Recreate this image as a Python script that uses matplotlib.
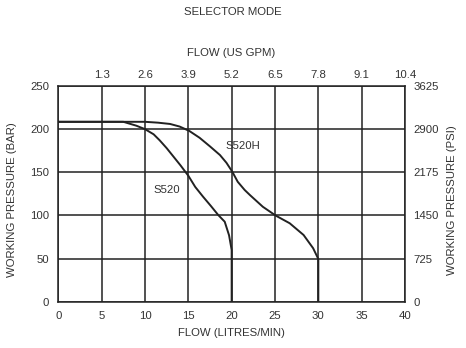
import matplotlib
matplotlib.use("Agg")
import matplotlib.pyplot as plt

plt.rcParams['font.family'] = ['Liberation Sans', 'DejaVu Sans']

# Data
flow_ticks = [0, 5, 10, 15, 20, 25, 30, 35, 40]
gpm_labels = ["1.3", "2.6", "3.9", "5.2", "6.5", "7.8", "9.1", "10.4"]
bar_ticks = [0, 50, 100, 150, 200, 250]
psi_labels = ["0", "725", "1450", "2175", "2900", "3625"]

s520_x = [0, 7.5, 9, 10, 11, 11.7, 12.5, 13.3, 14.1, 15, 15.8, 16.7, 17.6, 18.45, 19.2, 19.7, 20, 20]
s520_y = [208.5, 208.5, 204, 200, 194, 187, 178, 168, 158, 146, 133, 121.7, 111, 100.5, 92.7, 77, 60, 0]

s520h_x = [0, 10, 11.5, 12.9, 14, 15.1, 16.3, 17.5, 18.65, 19.4, 20.07, 20.7, 21.5, 22.1, 23.6, 25.1, 26.7, 28.3, 29.4, 30, 30]
s520h_y = [208.5, 208.5, 207.5, 206, 203, 198, 190, 180, 170, 161, 150.7, 139, 129.5, 123.7, 110, 99.7, 90.9, 77.3, 62, 49.5, 0]

W, H = 466, 348
fig = plt.figure(figsize=(W / 100, H / 100), dpi=100)
ax = fig.add_axes([58.3 / W, 1 - 301.7 / H, (405 - 58.3) / W, (301.7 - 86) / H])

col = "#222222"
tcol = "#333333"
fs = 8.2
ax.set_xlim(0, 40)
ax.set_ylim(0, 250)
ax.set_xticks(flow_ticks)
ax.set_yticks(bar_ticks)
ax.grid(True, color=col, linewidth=1.1)
ax.set_axisbelow(True)
for s in ax.spines.values():
    s.set_color(col)
    s.set_linewidth(1.1)
ax.tick_params(length=0, labelsize=fs, colors=tcol)
ax.tick_params(axis='x', pad=7)
ax.tick_params(axis='y', pad=6.5)

ax.plot(s520_x, s520_y, color=col, linewidth=1.4, solid_joinstyle='round')
ax.plot(s520h_x, s520h_y, color=col, linewidth=1.4, solid_joinstyle='round')

ax.text(21.3, 180.5, "S520H", fontsize=fs, ha='center', va='center', color=tcol)
ax.text(12.5, 129.5, "S520", fontsize=fs, ha='center', va='center', color=tcol)

# top axis (US GPM)
axt = ax.twiny()
axt.set_xlim(ax.get_xlim())
axt.set_xticks(flow_ticks[1:])
axt.set_xticklabels(gpm_labels)
axt.tick_params(length=0, labelsize=fs, pad=4.3, colors=tcol)
for s in axt.spines.values():
    s.set_visible(False)

# right axis (PSI)
axr = ax.twinx()
axr.set_ylim(ax.get_ylim())
axr.set_yticks(bar_ticks)
axr.set_yticklabels(psi_labels)
axr.tick_params(length=0, labelsize=fs, pad=6, colors=tcol)
for s in axr.spines.values():
    s.set_visible(False)

fig.text(233 / W, 1 - 12 / H, "SELECTOR MODE", fontsize=fs, ha='center', va='center', color=tcol)
fig.text(231 / W, 1 - 53 / H, "FLOW (US GPM)", fontsize=fs, ha='center', va='center', color=tcol)
fig.text(231 / W, 1 - 333 / H, "FLOW (LITRES/MIN)", fontsize=fs, ha='center', va='center', color=tcol)
fig.text(12 / W, 1 - 200 / H, "WORKING PRESSURE (BAR)", fontsize=fs, ha='center', va='center',
         rotation=90, color=tcol)
fig.text(452 / W, 1 - 200 / H, "WORKING PRESSURE (PSI)", fontsize=fs, ha='center', va='center',
         rotation=90, color=tcol)

fig.savefig("out.png", dpi=100)
